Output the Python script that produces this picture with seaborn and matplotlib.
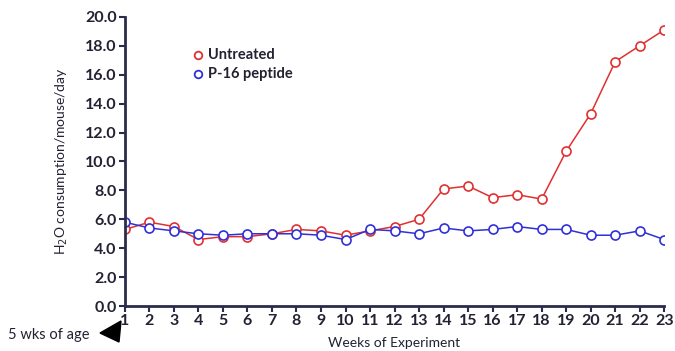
import numpy as np
import pandas as pd
import matplotlib
matplotlib.use("Agg")
import matplotlib.pyplot as plt
import seaborn as sns
from matplotlib.patches import Polygon

weeks = list(range(1, 24))
untreated = [5.3, 5.8, 5.5, 4.6, 4.8, 4.8, 5.0, 5.3, 5.2, 4.9, 5.2, 5.5,
             6.0, 8.1, 8.3, 7.5, 7.7, 7.4, 10.7, 13.3, 16.9, 18.0, 19.1]
p16 = [5.8, 5.4, 5.2, 5.0, 4.9, 5.0, 5.0, 5.0, 4.9, 4.6, 5.3, 5.2,
       5.0, 5.4, 5.2, 5.3, 5.5, 5.3, 5.3, 4.9, 4.9, 5.2, 4.6]
series_names = ["Untreated", "P-16 peptide"]
y_ticks = np.arange(0, 20.1, 2.0)

df = pd.concat([
    pd.DataFrame({"week": weeks, "value": untreated, "group": series_names[0]}),
    pd.DataFrame({"week": weeks, "value": p16, "group": series_names[1]}),
])

sns.set_style("white")
plt.rcParams['font.family'] = ['Lato', 'DejaVu Sans']
axis_col = "#2b2b4b"
text_col = "#222233"

fig = plt.figure(figsize=(6.75, 3.51), dpi=100)
ax = fig.add_axes([0.185, 0.128, 0.799, 0.824])

palette = {"Untreated": "#e03030", "P-16 peptide": "#3030d8"}
sns.lineplot(data=df, x="week", y="value", hue="group", palette=palette,
             marker="o", markersize=6.5, markerfacecolor="white", markeredgewidth=1.2,
             linewidth=1.1, ax=ax, legend=False)
# marker edge colours follow line colours
for line, name in zip(ax.get_lines(), series_names):
    line.set_markeredgecolor(palette[name])

ax.set_xlim(1, 23)
ax.set_ylim(0, 20)
ax.set_xticks(weeks)
ax.set_yticks(y_ticks)
ax.set_yticklabels([f"{v:.1f}" for v in y_ticks])
ax.tick_params(axis="both", direction="out", length=4, width=1.5, color=axis_col,
               labelsize=11.5, labelcolor=text_col, pad=2, left=True, bottom=True)
for lbl in ax.get_xticklabels() + ax.get_yticklabels():
    lbl.set_fontweight("bold")

for s in ["top", "right"]:
    ax.spines[s].set_visible(False)
for s in ["left", "bottom"]:
    ax.spines[s].set_color(axis_col)
    ax.spines[s].set_linewidth(2)
    ax.spines[s].set_clip_on(False)

ax.set_xlabel("Weeks of Experiment", fontsize=10, color=text_col, va="center")
ax.xaxis.set_label_coords(0.5, -0.128)
ax.set_ylabel("H$_2$O consumption/mouse/day", fontsize=10, color=text_col, va="center")
ax.yaxis.set_label_coords(-0.117, 0.5)

# legend
leg_y = [0.868, 0.803]
for name, yy in zip(series_names, leg_y):
    ax.plot([0.135], [yy], transform=ax.transAxes, marker="o",
            markersize=5.5, markerfacecolor="white", markeredgecolor=palette[name],
            markeredgewidth=1.3, linestyle="none", clip_on=False)
    ax.text(0.155, yy, name, transform=ax.transAxes, fontsize=10.5,
            fontweight="bold", color=text_col, va="center")

# "5 wks of age" annotation with arrowhead
fig.text(8 / 675, 1 - 335 / 351, "5 wks of age", fontsize=10.5, color=text_col,
         va="center", ha="left")
tri = Polygon([(121 / 675, 1 - 321 / 351), (100 / 675, 1 - 333 / 351),
               (119 / 675, 1 - 342 / 351)], closed=True, color="black",
              transform=fig.transFigure)
fig.patches.append(tri)

fig.savefig("out.png", dpi=100)
